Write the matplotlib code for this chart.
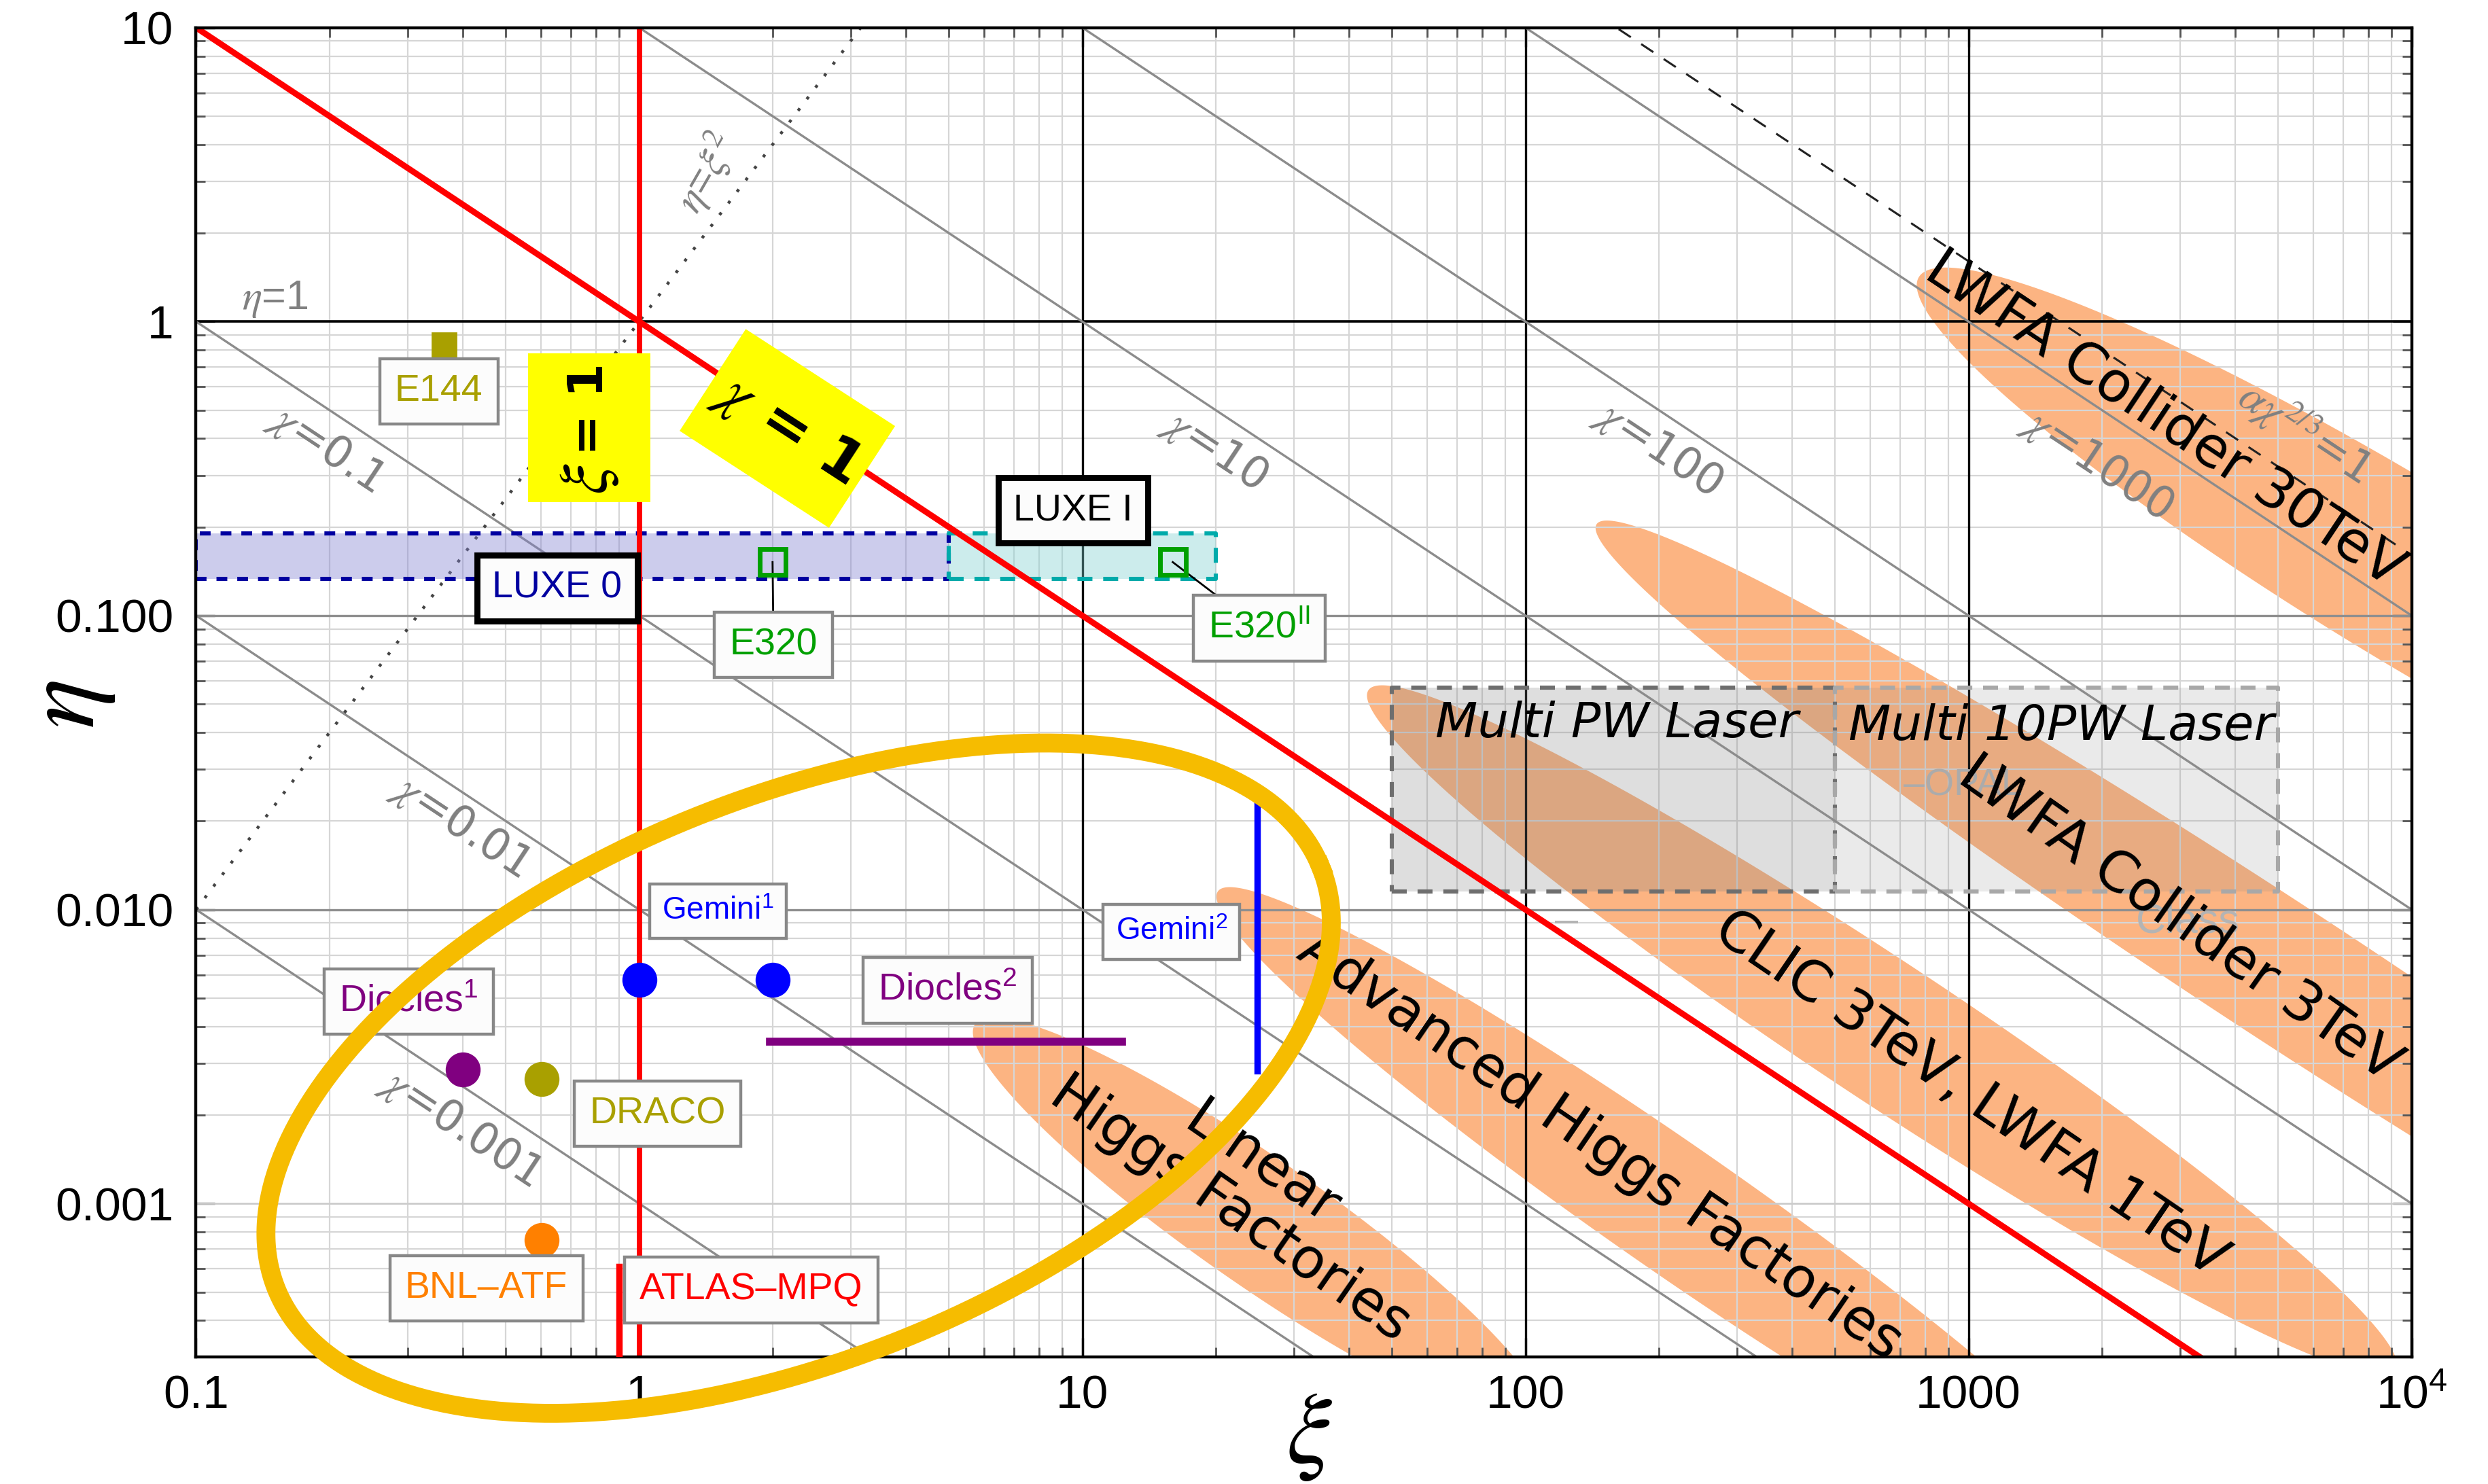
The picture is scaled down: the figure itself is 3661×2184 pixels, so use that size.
import numpy as np
import matplotlib
matplotlib.use('Agg')
import matplotlib.pyplot as plt
import matplotlib.transforms as mtransforms
from matplotlib.patches import Rectangle
from matplotlib.ticker import FixedLocator, LogLocator, NullFormatter

plt.rcParams['font.family'] = ['Liberation Sans', 'DejaVu Sans']
plt.rcParams['mathtext.fontset'] = 'stix'

# axes
xi_range = [0.1, 1e4]
eta_range = [3e-4, 10]
x_ticks = [0.1, 1, 10, 100, 1000, 1e4]
x_ticklabels = ['0.1', '1', '10', '100', '1000', r'$\mathregular{10^4}$']
y_ticks = [0.001, 0.01, 0.1, 1, 10]
y_ticklabels = ['0.001', '0.010', '0.100', '1', '10']

# iso-chi lines (chi = xi*eta)
chi_values = [0.001, 0.01, 0.1, 10, 100, 1000]
chi_alpha = 137.036 ** 1.5   # alpha*chi^(2/3) = 1
chi_lab_text = [r'$\chi$=0.001', r'$\chi$=0.01', r'$\chi$=0.1', r'$\chi$=10',
                r'$\chi$=100', r'$\chi$=1000', r'$\alpha\chi^{2/3}$=1']
chi_lab_xi = [0.396, 0.396, 0.197, 19.9, 199.5, 1954, 5754]
chi_lab_eta = [0.00182, 0.0193, 0.37, 0.367, 0.37, 0.327, 0.42]

# collider regions (ellipses in log space, half axes in xi-decades)
reg_xi = [1.0e4, 4920, 638, 215, 25]
reg_eta = [0.137, 0.00632, 0.00389, 0.00097, 0.000867]
reg_a = [1.30, 1.83, 1.39, 1.25, 0.78]
reg_b = [0.20, 0.154, 0.157, 0.143, 0.142]
reg_ang = [-31.2, -33.2, -33.5, -34.8, -34.9]
reg_text = ['LWFA Collider 30TeV', 'LWFA Collider 3TeV', 'CLIC 3TeV, LWFA 1TeV',
            'Advanced Higgs Factories', 'Linear\nHiggs Factories']
reg_text_xi = [2767, 3000, 1009, 147.6, 23.4]
reg_text_eta = [0.463, 0.00925, 0.00235, 0.00157, 0.00114]
reg_text_rot = [-33.7, -35.1, -34.3, -34.3, -34.7]

# laser facilities boxes
laser_names = ['Multi PW Laser', 'Multi 10PW Laser']
laser_xi = [[50, 500], [500, 5000]]
laser_eta = [0.0115, 0.057]
laser_text_xi = [161, 1618]
laser_text_eta = [0.0428, 0.0418]

# LUXE bands
luxe_names = ['LUXE 0', 'LUXE I']
luxe_xi = [[0.1, 5], [5, 20]]
luxe_eta = [0.133, 0.19]
luxe_lab_xi = [0.653, 9.53]
luxe_lab_eta = [0.124, 0.228]

# experiments
e144 = (0.362, 0.834)
e320_xi = [2.0, 16.0]
e320_eta = [0.152, 0.152]
dot_xi = [1.0, 2.0, 0.40, 0.603, 0.603]
dot_eta = [0.00577, 0.00577, 0.00285, 0.00265, 0.00075]
dot_col = ['#0000FF', '#0000FF', '#800080', '#A9A000', '#FF8000']
gemini2 = (24.8, [0.00282, 0.0236])
diocles2 = ([1.97, 12.3], 0.00356)
atlas = (0.90, [2.0e-4, 0.00061])

tag_text = ['E144', 'E320', r'E320$^{\mathregular{II}}$', r'Gemini$^{\mathregular{1}}$',
            r'Gemini$^{\mathregular{2}}$', r'Diocles$^{\mathregular{1}}$',
            r'Diocles$^{\mathregular{2}}$', 'DRACO', 'BNL\u2013ATF', 'ATLAS\u2013MPQ']
tag_xi = [0.353, 2.01, 25.1, 1.505, 15.9, 0.302, 4.97, 1.10, 0.452, 1.79]
tag_eta = [0.579, 0.0795, 0.0906, 0.00988, 0.0084, 0.00487, 0.00531, 0.00202, 0.000515, 0.000508]
tag_col = ['#A9A000', '#00A000', '#00A000', '#0000FF', '#0000FF', '#800080', '#800080',
           '#A9A000', '#FF8000', '#FF0000']
tag_size = [20, 20, 20, 16.5, 16.5, 20, 20, 20, 20, 20]

# highlighted region (gold ellipse)
gold = dict(xi=2.29, eta=0.00267, a=1.271, b=0.634, ang=22)

W, H, DPI = 3661, 2184, 200
fig = plt.figure(figsize=(W / DPI, H / DPI), dpi=DPI)
pos = [0.0788, 0.0854, 0.8905, 0.8960]
ax = fig.add_axes(pos)
ax.set_xscale('log')
ax.set_yscale('log')
ax.set_xlim(xi_range)
ax.set_ylim(eta_range)

# pixel ratio between one eta decade and one xi decade
r = (pos[3] * H / np.log10(eta_range[1] / eta_range[0])) / (pos[2] * W / np.log10(xi_range[1] / xi_range[0]))
chi_rot = -np.degrees(np.arctan(r))


def ellipse(xc, yc, a, b, ang):
    t = np.linspace(0, 2 * np.pi, 500)
    th = np.radians(ang)
    u = a * np.cos(t) * np.cos(th) - b * np.sin(t) * np.sin(th)
    v = a * np.cos(t) * np.sin(th) + b * np.sin(t) * np.cos(th)
    return xc * 10 ** u, yc * 10 ** (v / r)


# ticks and grid
ax.xaxis.set_major_locator(FixedLocator(x_ticks))
ax.set_xticklabels(x_ticklabels)
ax.yaxis.set_major_locator(FixedLocator(y_ticks))
ax.set_yticklabels(y_ticklabels)
for axis in [ax.xaxis, ax.yaxis]:
    axis.set_minor_locator(LogLocator(base=10, subs=np.arange(2, 10), numticks=20))
    axis.set_minor_formatter(NullFormatter())
ax.tick_params(which='both', direction='in', top=True, right=True, color='#555555', labelsize=25)
ax.tick_params(which='major', length=10, width=1.2)
ax.tick_params(which='minor', length=5, width=1.0)
ax.tick_params(axis='y', pad=12)
ax.tick_params(axis='x', pad=9)
for s in ax.spines.values():
    s.set_linewidth(1.6)
ax.set_axisbelow(True)
ax.grid(which='minor', color='#d6d6d6', lw=0.8)
for v in x_ticks[2:5]:
    ax.axvline(v, color='k', lw=1.2, zorder=0.6)
ax.axhline(1, color='k', lw=1.3, zorder=0.6)
for v in [0.1, 0.01]:
    ax.axhline(v, color='#8f8f8f', lw=1.2, zorder=0.6)
ax.axhline(0.001, color='#cccccc', lw=1.0, zorder=0.6)

# collider regions
for xc, yc, a, b, ang in zip(reg_xi, reg_eta, reg_a, reg_b, reg_ang):
    ex, ey = ellipse(xc, yc, a, b, ang)
    ax.fill(ex, ey, color='#FCB482', lw=0, zorder=0.3)

# faint hidden labels
ax.text(970, 0.0263, '\u2013OPAL', color='#b4b4b4', fontsize=20, ha='center', va='center', zorder=0.7)
ax.text(3126, 0.00906, 'Class', color='#b4b4b4', fontsize=22, ha='center', va='center', zorder=0.7)
ax.text(124, 0.00906, '\u2013', color='#b4b4b4', fontsize=22, ha='center', va='center', zorder=0.7)

# laser boxes
laser_fc = [(0.5, 0.5, 0.5, 0.26), (0.5, 0.5, 0.5, 0.16)]
laser_ec = ['#6e6e6e', '#a8a8a8']
for (x0, x1), fc, ec in zip(laser_xi, laser_fc, laser_ec):
    ax.add_patch(Rectangle((x0, laser_eta[0]), x1 - x0, laser_eta[1] - laser_eta[0],
                           fc=fc, ec='none', zorder=0.8))
    ax.plot([x0, x1, x1, x0, x0], [laser_eta[0], laser_eta[0], laser_eta[1], laser_eta[1], laser_eta[0]],
            color=ec, lw=2.2, ls=(0, (3.6, 2.6)), zorder=0.9)
for name, x, y in zip(laser_names, laser_text_xi, laser_text_eta):
    ax.text(x, y, name, fontsize=26, style='italic', family='DejaVu Sans',
            ha='center', va='center', zorder=2.5)

# iso-chi lines
xi = np.logspace(-1, 4, 300)
for c in chi_values:
    ax.plot(xi, c / xi, color='#8c8c8c', lw=1.2, zorder=1.0)
ax.plot(xi, chi_alpha / xi, color='#222222', lw=1.1, ls=(0, (7, 6)), zorder=1.0)
ax.plot(xi, xi ** 2, color='#444444', lw=1.6, ls=(0, (1, 3.8)), zorder=1.0)
for t, x, y in zip(chi_lab_text, chi_lab_xi, chi_lab_eta):
    ax.text(x, y, t, color='#808080', fontsize=23, family=['DejaVu Sans'], rotation=chi_rot,
            rotation_mode='anchor', ha='center', va='center', zorder=1.5)
ax.text(0.151, 1.19, r'$\eta$=1', color='#808080', fontsize=22, ha='center', va='center', zorder=1.5)
ax.text(1.42, 3.21, r'$\eta$=$\xi^2$', color='#808080', fontsize=22, rotation=60,
        rotation_mode='anchor', ha='center', va='center', zorder=1.5)

# LUXE bands
luxe_fc = [(0.5, 0.5, 0.82, 0.4), (0.5, 0.82, 0.82, 0.4)]
luxe_ec = ['#0000A0', '#00AAAA']
luxe_ls = [(0, (2.6, 2.4)), (0, (3.6, 2.6))]
for (x0, x1), fc, ec, ls in zip(luxe_xi, luxe_fc, luxe_ec, luxe_ls):
    ax.add_patch(Rectangle((x0, luxe_eta[0]), x1 - x0, luxe_eta[1] - luxe_eta[0],
                           fc=fc, ec='none', zorder=1.1))
    ax.plot([x0, x1, x1, x0, x0], [luxe_eta[0], luxe_eta[0], luxe_eta[1], luxe_eta[1], luxe_eta[0]],
            color=ec, lw=2.2, ls=ls, zorder=1.2)

# chi = 1 and xi = 1
ax.plot(xi, 1 / xi, color='#FF0000', lw=3.2, zorder=2)
ax.axvline(1, color='#FF0000', lw=2.8, zorder=2)

# region labels
for t, x, y, rot in zip(reg_text, reg_text_xi, reg_text_eta, reg_text_rot):
    ax.text(x, y, t, fontsize=29.5, family='DejaVu Sans', rotation=rot, rotation_mode='anchor',
            ha='center', va='center', multialignment='center', linespacing=1.0, zorder=2.5)


# yellow boxes
def yellow_box(x, y, w, h, ang):
    tr = (mtransforms.Affine2D().rotate_deg(ang) + fig.dpi_scale_trans
          + mtransforms.ScaledTranslation(x, y, ax.transData))
    ax.add_patch(Rectangle((-w / 2, -h / 2), w, h, transform=tr, fc='#FFFF00', ec='none', zorder=4))


yellow_box(0.772, 0.435, 0.899, 1.094, 0)
ax.annotate('= 1', (0.772, 0.435), xytext=(0, 10), textcoords='offset points', fontsize=26,
            fontweight='bold', family='DejaVu Sans', rotation=90, ha='center', va='center', zorder=4.1)
ax.annotate(r'$\xi$', (0.772, 0.435), xytext=(0, -27), textcoords='offset points', fontsize=36,
            rotation=90, ha='center', va='center', zorder=4.1)
yellow_box(2.16, 0.433, 1.31, 0.893, -33)
ax.text(2.16, 0.433, r'$\chi$ = 1', fontsize=31, fontweight='bold', family='DejaVu Sans', rotation=-33,
        rotation_mode='anchor', ha='center', va='center', zorder=4.1)

# experiments
ax.plot(*e144, marker='s', ms=12.6, color='#A9A000', ls='none', zorder=4.5)
ax.plot(e320_xi, e320_eta, marker='s', ms=14, mfc='none', mec='#00A000', mew=2.5, ls='none', zorder=4.5)
ax.plot([e320_xi[0], tag_xi[1]], [e320_eta[0], tag_eta[1]], color='k', lw=1.0, zorder=4.4)
ax.plot([e320_xi[1], tag_xi[2]], [e320_eta[1], tag_eta[2]], color='k', lw=1.0, zorder=4.4)
for x, y, c in zip(dot_xi, dot_eta, dot_col):
    ax.plot(x, y, marker='o', ms=17.5, color=c, ls='none', zorder=4.5)
ax.plot([gemini2[0]] * 2, gemini2[1], color='#0000FF', lw=3.4, zorder=4.5)
ax.plot(diocles2[0], [diocles2[1]] * 2, color='#800080', lw=4.2, zorder=4.5)
ax.plot([atlas[0]] * 2, atlas[1], color='#FF0000', lw=3.4, zorder=4.5)

for t, x, y, c, s in zip(tag_text, tag_xi, tag_eta, tag_col, tag_size):
    ax.text(x, y, t, color=c, fontsize=s, ha='center', va='center', zorder=5,
            bbox=dict(boxstyle='square,pad=0.4', fc='#fcfcfc', ec='#888888', lw=1.6))
luxe_col = ['#0000A0', 'k']
for t, x, y, c in zip(luxe_names, luxe_lab_xi, luxe_lab_eta, luxe_col):
    ax.text(x, y, t, color=c, fontsize=20, ha='center', va='center', zorder=5,
            bbox=dict(boxstyle='square,pad=0.4', fc='#fcfcfc', ec='k', lw=3.2))

# highlighted region
gx, gy = ellipse(gold['xi'], gold['eta'], gold['a'], gold['b'], gold['ang'])
ax.plot(gx, gy, color='#F6BC00', lw=10, clip_on=False, zorder=6)

fig.text(825 / 1568, 1 - 904.6 / 935, r'$\xi$', fontsize=54, ha='center', va='center')
fig.text(42.5 / 1568, 1 - 444 / 935, r'$\eta$', fontsize=56, rotation=90, ha='center', va='center')

fig.savefig('out.png', dpi=DPI)
